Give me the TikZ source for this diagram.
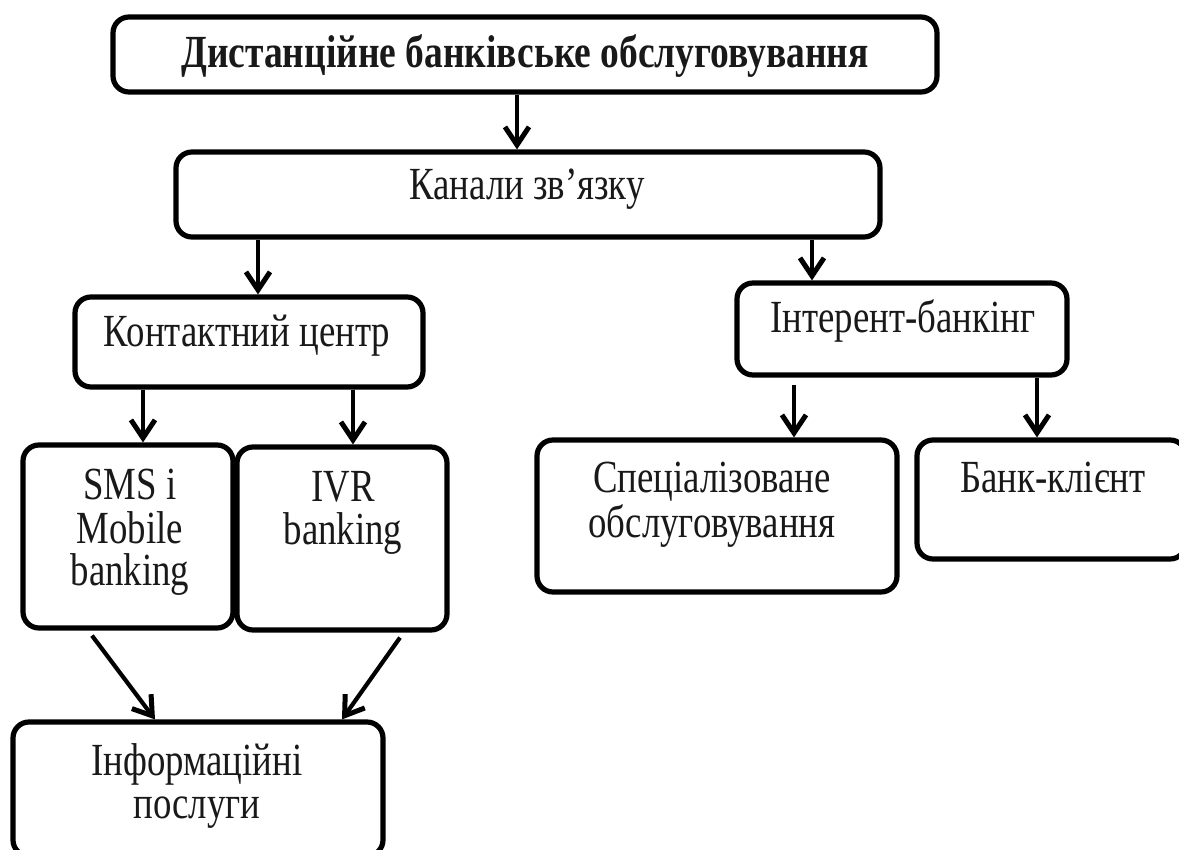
\documentclass[tikz,border=0pt]{standalone}
\usepackage{fontspec}
\setmainfont{Liberation Serif}
\usetikzlibrary{arrows.meta}
\newcommand\narrowtxt[1]{\scalebox{0.8}[1]{#1}}
\newcommand\narrowbold[1]{\scalebox{0.815}[1]{#1}}
\begin{document}
\begin{tikzpicture}[x=0.5pt,y=-0.5pt,
  box/.style={draw=black,line width=2.6pt,rounded corners=8pt,inner sep=0pt,fill=white},
  txt/.style={anchor=base,inner sep=0pt,font=\fontsize{23}{26}\selectfont,text=black!90},
  arr/.style={line width=2.1pt,-{Straight Barb[length=9pt,width=12pt,line width=2.5pt]}}]
\useasboundingbox (0,0) rectangle (1179,850);
\fill[white] (0,0) rectangle (1179,850);
% boxes
\node[box,minimum width=412pt,minimum height=37.5pt] (top) at (525,54.5) {};
\node[box,minimum width=352pt,minimum height=42.5pt] (kan) at (528,194.5) {};
\node[box,minimum width=174pt,minimum height=45pt] (kon) at (249,342) {};
\node[box,minimum width=165pt,minimum height=46pt] (int) at (902,329) {};
\node[box,minimum width=105pt,minimum height=91.5pt] (sms) at (128,536.5) {};
\node[box,minimum width=105pt,minimum height=91.5pt] (ivr) at (342,538.5) {};
\node[box,minimum width=180pt,minimum height=76pt] (spec) at (717,516) {};
\node[box,minimum width=134.5pt,minimum height=59.5pt] (bank) at (1051.5,499.5) {};
\node[box,minimum width=185pt,minimum height=67pt] (info) at (198,789) {};
% texts
\node[txt,font=\fontsize{23}{26}\selectfont\bfseries] (ttop) at (525,68) {\narrowbold{Дистанційне банківське обслуговування}};
\node[txt] (tkan) at (527,200) {\narrowtxt{Канали зв’язку}};
\node[txt] (tkon) at (247,347) {\narrowtxt{Контактний центр}};
\node[txt] (tint) at (903,333) {\narrowtxt{Інтерент-банкінг}};
\node[txt] (tsms1) at (130,500) {\narrowtxt{SMS і}};
\node[txt] (tsms2) at (130,543) {\narrowtxt{Mobile}};
\node[txt] (tsms3) at (130,585) {\narrowtxt{banking}};
\node[txt] (tivr1) at (343,502) {\narrowtxt{IVR}};
\node[txt] (tivr2) at (343,545) {\narrowtxt{banking}};
\node[txt] (tspec1) at (712,493) {\narrowtxt{Спеціалізоване}};
\node[txt] (tspec2) at (712,537) {\narrowtxt{обслуговування}};
\node[txt] (tbank) at (1053,492) {\narrowtxt{Банк-клієнт}};
\node[txt] (tinfo1) at (197,775) {\narrowtxt{Інформаційні}};
\node[txt] (tinfo2) at (197,818) {\narrowtxt{послуги}};
% connector columns
\coordinate (c1) at (517,0);
\coordinate (c2) at (258,0);
\coordinate (c3) at (812,0);
\coordinate (c4) at (143,0);
\coordinate (c5) at (353,0);
\coordinate (c6) at (794,0);
\coordinate (c7) at (1037,0);
\coordinate (c8a) at (92,0);
\coordinate (c8b) at (155,0);
\coordinate (c9a) at (400,0);
\coordinate (c9b) at (342,0);
% connectors
\draw[arr] (top.south -| c1) -- (kan.north -| c1);
\draw[arr] (kan.south -| c2) -- (kon.north -| c2);
\draw[arr] (kan.south -| c3) -- (int.north -| c3);
\draw[arr] (kon.south -| c4) -- (sms.north -| c4);
\draw[arr] (kon.south -| c5) -- (ivr.north -| c5);
\draw[arr] ([yshift=-3.5pt]int.south -| c6) -- (spec.north -| c6);
\draw[arr] (int.south -| c7) -- (bank.north -| c7);
\draw[arr] ([yshift=-2.5pt]sms.south -| c8a) -- (info.north -| c8b);
\draw[arr] ([yshift=-2.5pt]ivr.south -| c9a) -- (info.north -| c9b);
\end{tikzpicture}
\end{document}
